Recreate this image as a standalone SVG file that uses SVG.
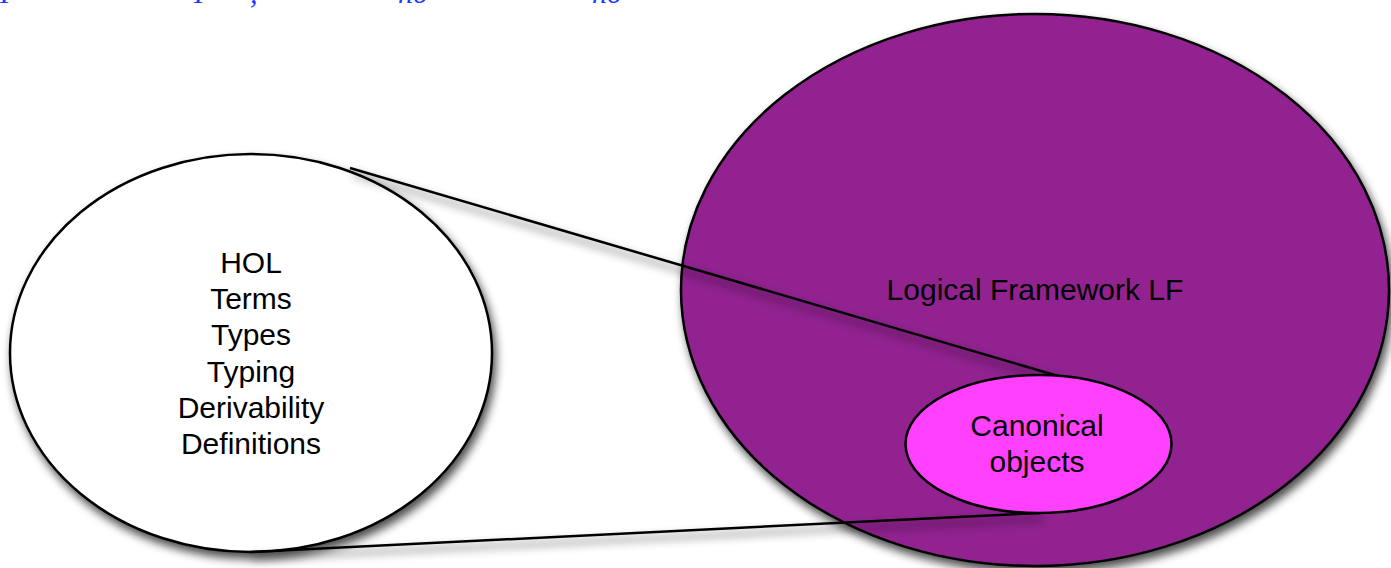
<svg xmlns="http://www.w3.org/2000/svg" width="1391" height="568" viewBox="0 0 1391 568">
<defs>
<filter id="sh" x="-10%" y="-10%" width="120%" height="125%">
<feGaussianBlur in="SourceAlpha" stdDeviation="5"/>
<feOffset dx="3" dy="6" result="b"/>
<feComponentTransfer><feFuncA type="linear" slope="0.7"/></feComponentTransfer>
<feMerge><feMergeNode/><feMergeNode in="SourceGraphic"/></feMerge>
</filter>
</defs>
<style>
.node{stroke:#000;stroke-width:2.5}
.lbl{font-family:"Liberation Sans",Arial,sans-serif;font-size:30px;fill:#000;text-anchor:middle}
.con{stroke:#000;stroke-width:2.5;fill:none}
.top{font-family:"Liberation Serif",serif;font-style:italic;font-size:30px;fill:#1a3cff}
</style>
<rect width="1391" height="568" fill="#fff"/>
<text class="top" y="2.5"><tspan x="0">Γ</tspan><tspan x="194">Γ</tspan><tspan x="250">,</tspan><tspan x="398">ho</tspan><tspan x="592">ho</tspan></text>
<g id="lf">
<ellipse class="node" cx="1035" cy="290" rx="354" ry="276" fill="#912090" filter="url(#sh)"/>
<text class="lbl" x="1035" y="300">Logical Framework LF</text>
</g>
<g id="hol">
<ellipse class="node" cx="251" cy="353" rx="241" ry="199" fill="#fff" filter="url(#sh)"/>
<text class="lbl" x="251" y="273">HOL</text>
<text class="lbl" x="251" y="309">Terms</text>
<text class="lbl" x="251" y="345">Types</text>
<text class="lbl" x="251" y="382">Typing</text>
<text class="lbl" x="251" y="418">Derivability</text>
<text class="lbl" x="251" y="454">Definitions</text>
</g>
<g id="connectors" filter="url(#sh)">
<line class="con" x1="350" y1="168" x2="1058" y2="376"/>
<line class="con" x1="250" y1="552" x2="1040" y2="513"/>
</g>
<g id="canonical">
<ellipse class="node" cx="1038.5" cy="444" rx="133" ry="69" fill="#ff40ff"/>
<text class="lbl" x="1037" y="436">Canonical</text>
<text class="lbl" x="1037" y="472">objects</text>
</g>
</svg>
